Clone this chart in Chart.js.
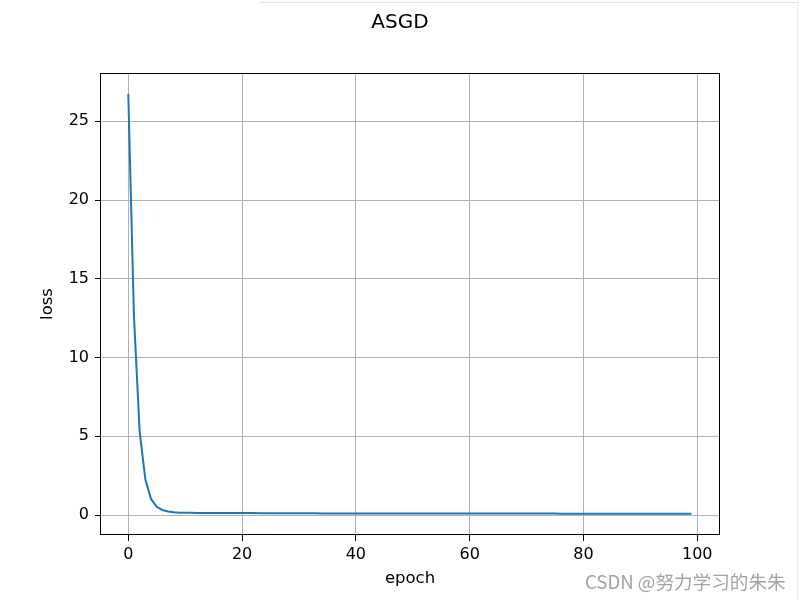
<!DOCTYPE html>
<html>
<head>
<meta charset="utf-8">
<script src="https://cdn.jsdelivr.net/npm/chart.js@4.4.1/dist/chart.umd.min.js"></script>
<style>
  html, body { margin: 0; padding: 0; background: #fff; }
  #wrap { position: relative; width: 800px; height: 600px; overflow: hidden; }
  #wm { position: absolute; left: 585px; top: 570px; line-height: 22px; font-family: "Noto Sans CJK SC", "DejaVu Sans", sans-serif;
        font-size: 18.6px; color: #a3a3a3; white-space: nowrap; }
  #edgeTop { position: absolute; left: 259px; top: 2px; width: 540px; height: 1px; background: #e4e4e4; }
  #edgeRight { position: absolute; left: 797px; top: 2px; width: 1px; height: 598px; background: #ececec; }
</style>
</head>
<body>
<div id="wrap">
  <canvas id="c" width="800" height="600"></canvas>
  <div id="edgeTop"></div>
  <div id="edgeRight"></div>
  <div id="wm">CSDN @努力学习的朱朱</div>
</div>
<script>
const chartTitle = "ASGD";
const xLabel = "epoch";
const yLabel = "loss";
const xTicks = [0, 20, 40, 60, 80, 100];
const yTicks = [0, 5, 10, 15, 20, 25];
const lossValues = [
  26.75, 12.6, 5.3, 2.25, 1.02, 0.52, 0.32, 0.22, 0.17, 0.15,
  0.14, 0.14, 0.13, 0.13, 0.13, 0.13, 0.12, 0.12, 0.12, 0.12,
  0.12, 0.12, 0.12, 0.11, 0.11, 0.11, 0.11, 0.11, 0.11, 0.11,
  0.11, 0.11, 0.11, 0.11, 0.10, 0.10, 0.10, 0.10, 0.10, 0.10,
  0.10, 0.10, 0.10, 0.10, 0.10, 0.10, 0.10, 0.10, 0.10, 0.10,
  0.10, 0.10, 0.10, 0.10, 0.10, 0.09, 0.09, 0.09, 0.09, 0.09,
  0.09, 0.09, 0.09, 0.09, 0.09, 0.09, 0.09, 0.09, 0.09, 0.09,
  0.09, 0.09, 0.09, 0.09, 0.09, 0.09, 0.08, 0.08, 0.08, 0.08,
  0.08, 0.08, 0.08, 0.08, 0.08, 0.08, 0.08, 0.08, 0.08, 0.08,
  0.08, 0.08, 0.08, 0.08, 0.08, 0.08, 0.08, 0.08, 0.08, 0.08
];
const epochs = lossValues.map((_, i) => i);
const points = epochs.map((e, i) => ({ x: e, y: lossValues[i] }));

const FONT = "'DejaVu Sans', sans-serif";

const frame = {
  id: 'frame',
  afterDatasetsDraw(chart) {
    const a = chart.chartArea, ctx = chart.ctx;
    ctx.save();
    ctx.strokeStyle = '#000';
    ctx.lineWidth = 1;
    ctx.strokeRect(Math.round(a.left) + 0.5, Math.round(a.top) + 0.5,
                   Math.round(a.right - a.left) - 1, Math.round(a.bottom - a.top) - 1);
    ctx.restore();
  }
};

new Chart(document.getElementById('c'), {
  type: 'line',
  data: {
    datasets: [{
      data: points,
      borderColor: '#1f77b4',
      borderWidth: 2,
      pointRadius: 0,
      tension: 0,
      fill: false
    }]
  },
  options: {
    responsive: false,
    animation: false,
    layout: { padding: 0 },
    plugins: {
      legend: { display: false },
      tooltip: { enabled: false },
      title: {
        display: true,
        text: chartTitle,
        color: '#000',
        font: { family: FONT, size: 20, weight: 'normal', lineHeight: 1.2 },
        padding: { top: 11, bottom: 38 }
      }
    },
    scales: {
      x: {
        type: 'linear',
        min: -4.97,
        max: 104.0,
        afterBuildTicks(s) { s.ticks = xTicks.map(v => ({ value: v })); },
        afterFit(s) { s.height = 65; },
        ticks: { color: '#000', font: { family: FONT, size: 16 }, padding: 4, maxRotation: 0, autoSkip: false },
        grid: { color: '#b0b0b0', lineWidth: 1, tickColor: '#000', tickLength: 6, tickWidth: 1 },
        border: { display: false },
        title: { display: true, text: xLabel, color: '#000', font: { family: FONT, size: 16.5 }, padding: { top: 0, bottom: 11 } }
      },
      y: {
        type: 'linear',
        min: -1.27,
        max: 28.07,
        afterBuildTicks(s) { s.ticks = yTicks.map(v => ({ value: v })); },
        afterFit(s) { s.width = 100; },
        ticks: { color: '#000', font: { family: FONT, size: 16 }, padding: 6, autoSkip: false },
        grid: { color: '#b0b0b0', lineWidth: 1, tickColor: '#000', tickLength: 5, tickWidth: 1 },
        border: { display: false },
        title: { display: true, text: yLabel, color: '#000', font: { family: FONT, size: 16.5 }, padding: { top: 38, bottom: 0 } }
      },
      yRight: {
        type: 'linear',
        position: 'right',
        display: true,
        min: -1.27,
        max: 28.07,
        afterFit(s) { s.width = 80; },
        ticks: { display: false },
        grid: { display: false, drawTicks: false },
        border: { display: false },
        title: { display: false }
      }
    }
  },
  plugins: [frame]
});
</script>
</body>
</html>
